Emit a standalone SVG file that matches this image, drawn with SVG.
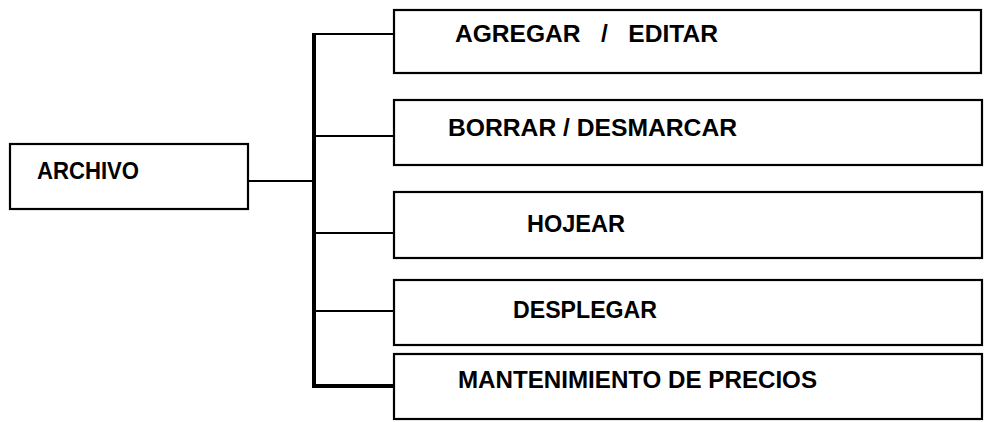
<svg xmlns="http://www.w3.org/2000/svg" width="988" height="422" viewBox="0 0 988 422">
<style>
.box{fill:#fff;stroke:#000;stroke-width:2.2}
.lbl{font-family:"Liberation Sans",Arial,sans-serif;font-weight:bold;font-size:23px;fill:#000}
.c{stroke:#000;stroke-width:2.2;fill:none}
.trunk{stroke:#000;stroke-width:4;fill:none}
</style>
<rect width="988" height="422" fill="#fff"/>
<g id="connectors">
<line class="trunk" x1="314" y1="33" x2="314" y2="388"/>
<line class="c" x1="249" y1="181" x2="314" y2="181"/>
<line class="c" x1="314" y1="34" x2="394" y2="34"/>
<line class="c" x1="314" y1="136" x2="394" y2="136"/>
<line class="c" x1="314" y1="233" x2="394" y2="233"/>
<line class="c" x1="314" y1="311" x2="394" y2="311"/>
<line class="trunk" x1="312" y1="386" x2="394" y2="386"/>
</g>
<g id="archivo">
<rect class="box" x="10" y="144" width="238" height="65"/>
<text class="lbl" x="37" y="179" textLength="102" lengthAdjust="spacingAndGlyphs">ARCHIVO</text>
</g>
<g id="agregar">
<rect class="box" x="394" y="10" width="587" height="63"/>
<text class="lbl" x="455" y="42" xml:space="preserve" textLength="263" lengthAdjust="spacingAndGlyphs">AGREGAR   /   EDITAR</text>
</g>
<g id="borrar">
<rect class="box" x="394" y="100" width="588" height="65"/>
<text class="lbl" x="448" y="136" textLength="289" lengthAdjust="spacingAndGlyphs">BORRAR / DESMARCAR</text>
</g>
<g id="hojear">
<rect class="box" x="394" y="192" width="588" height="66"/>
<text class="lbl" x="527" y="232" textLength="98" lengthAdjust="spacingAndGlyphs">HOJEAR</text>
</g>
<g id="desplegar">
<rect class="box" x="394" y="280" width="588" height="65"/>
<text class="lbl" x="513" y="318" textLength="144" lengthAdjust="spacingAndGlyphs">DESPLEGAR</text>
</g>
<g id="mantenimiento">
<rect class="box" x="394" y="354" width="588" height="65"/>
<text class="lbl" x="458" y="388" textLength="359" lengthAdjust="spacingAndGlyphs">MANTENIMIENTO DE PRECIOS</text>
</g>
</svg>
